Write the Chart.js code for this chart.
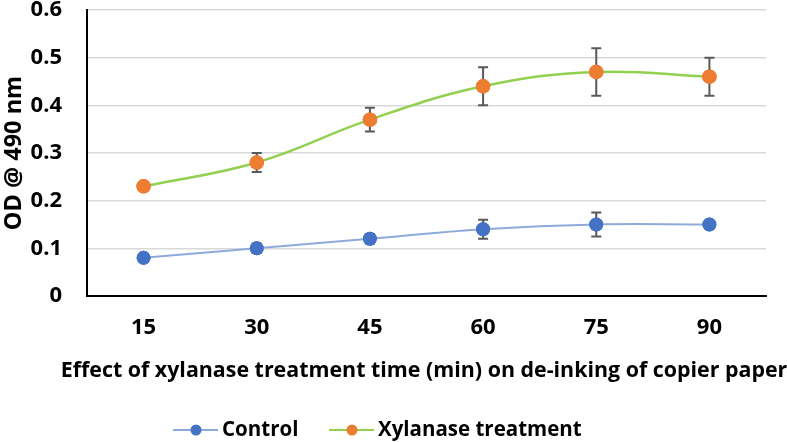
<!DOCTYPE html>
<html><head><meta charset="utf-8">
<script src="https://cdn.jsdelivr.net/npm/chart.js@4/dist/chart.umd.min.js"></script>
<style>html,body{margin:0;padding:0;background:#fff}#wrap{width:787px;height:442px}</style>
</head><body><div id="wrap"><canvas id="c" width="787" height="442"></canvas></div>
<script>
const categories = ['15','30','45','60','75','90'];
const controlValues = [0.08, 0.10, 0.12, 0.14, 0.15, 0.15];
const controlErrors = [0.005, 0.01, 0.01, 0.02, 0.025, 0.005];
const xylanaseValues = [0.23, 0.28, 0.37, 0.44, 0.47, 0.46];
const xylanaseErrors = [0.007, 0.02, 0.025, 0.04, 0.05, 0.04];
const yTicks = [0, 0.1, 0.2, 0.3, 0.4, 0.5, 0.6];
const xTitle = 'Effect of xylanase treatment time (min) on de-inking of copier paper';

const FONT = '"Open Sans", sans-serif';

const errorBars = {
  id: 'errorBars',
  afterDatasetsDraw(chart){
    const ctx = chart.ctx, y = chart.scales.y;
    ctx.save();
    ctx.strokeStyle = '#595959'; ctx.lineWidth = 2;
    chart.data.datasets.forEach((ds, i) => {
      const meta = chart.getDatasetMeta(i);
      meta.data.forEach((pt, j) => {
        const e = ds.errors[j], v = ds.data[j];
        const top = y.getPixelForValue(v + e), bot = y.getPixelForValue(v - e);
        const x = pt.x;
        ctx.beginPath();
        ctx.moveTo(x, top); ctx.lineTo(x, bot);
        ctx.moveTo(x-5, top); ctx.lineTo(x+5, top);
        ctx.moveTo(x-5, bot); ctx.lineTo(x+5, bot);
        ctx.stroke();
      });
    });
    ctx.restore();
  }
};

const redrawPoints = {
  id: 'redrawPoints',
  afterDatasetsDraw(chart){
    chart.data.datasets.forEach((ds, i) => {
      const meta = chart.getDatasetMeta(i);
      meta.data.forEach(pt => pt.draw(chart.ctx, chart.chartArea));
    });
  }
};

// x-axis title (wider than the plot area) and legend drawn below the axis
const bottomTexts = {
  id: 'bottomTexts',
  afterDraw(chart){
    const ctx = chart.ctx;
    ctx.save();
    ctx.fillStyle = '#000';
    ctx.font = 'bold 21.4px ' + FONT;
    ctx.textAlign = 'center'; ctx.textBaseline = 'alphabetic';
    ctx.fillText(xTitle, 424, 377);

    const items = [ { x: 173, textX: 222 }, { x: 329, textX: 378 } ];
    const cy = 430;
    ctx.font = 'bold 20.5px ' + FONT;
    ctx.textAlign = 'left'; ctx.textBaseline = 'middle';
    chart.data.datasets.forEach((ds, i) => {
      const it = items[i];
      ctx.strokeStyle = ds.borderColor; ctx.lineWidth = 2;
      ctx.beginPath(); ctx.moveTo(it.x, cy); ctx.lineTo(it.x + 45, cy); ctx.stroke();
      ctx.fillStyle = ds.pointBackgroundColor;
      ctx.beginPath(); ctx.arc(it.x + 23, cy, 5.5, 0, Math.PI*2); ctx.fill();
      ctx.fillStyle = '#000';
      ctx.fillText(ds.label, it.textX, cy);
    });
    ctx.restore();
  }
};

new Chart(document.getElementById('c'), {
  type: 'line',
  data: {
    labels: categories,
    datasets: [
      { label: 'Control', data: controlValues, errors: controlErrors,
        borderColor: '#8eaadb', borderWidth: 2, backgroundColor: '#4472c4',
        pointBackgroundColor: '#4472c4', pointBorderColor: '#4472c4',
        pointRadius: 6, pointStyle: 'circle', tension: 0.4 },
      { label: 'Xylanase treatment', data: xylanaseValues, errors: xylanaseErrors,
        borderColor: '#92d050', borderWidth: 2.5, backgroundColor: '#ed7d31',
        pointBackgroundColor: '#ed7d31', pointBorderColor: '#ed7d31',
        pointRadius: 6, pointStyle: 'circle', tension: 0.4 }
    ]
  },
  options: {
    responsive: false, animation: false,
    layout: { autoPadding: false, padding: { top: 10, right: 21, left: 0, bottom: 0 } },
    plugins: { legend: { display: false }, tooltip: { enabled: false } },
    scales: {
      x: { offset: true,
        afterFit(s){ s.paddingLeft = 0; s.paddingRight = 0; s.height = 146; },
        grid: { display: false, drawTicks: false },
        border: { color: '#000', width: 2 },
        ticks: { padding: 19, color: '#000', font: { family: FONT, size: 22, weight: 'bold' } } },
      y: { min: 0, max: 0.6,
        afterBuildTicks(s){ s.ticks = yTicks.map(v => ({ value: v })); },
        afterFit(s){ s.paddingTop = 0; s.paddingBottom = 0; s.width = 87; },
        grid: { color: '#d9d9d9', lineWidth: 1.5, drawTicks: false },
        border: { color: '#000', width: 2 },
        ticks: { padding: 25, color: '#000', font: { family: FONT, size: 22, weight: 'bold' },
          callback: v => String(Math.round(v*10)/10) },
        title: { display: true, text: 'OD @ 490 nm', color: '#000',
          font: { family: FONT, size: 23.5, weight: 'bold' }, padding: { top: 0, bottom: 1 } } }
    }
  },
  plugins: [errorBars, redrawPoints, bottomTexts]
});
</script></body></html>
